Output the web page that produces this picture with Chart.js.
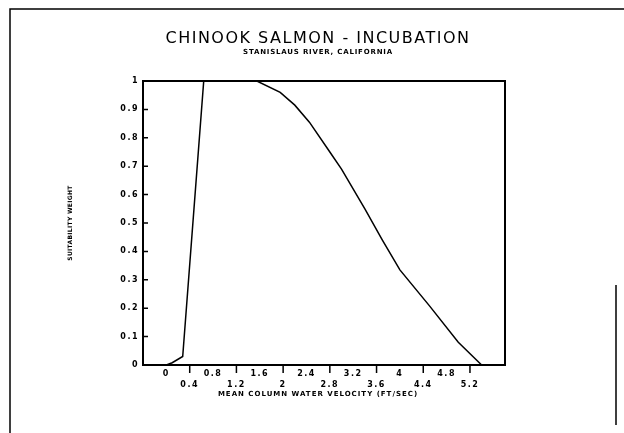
<!DOCTYPE html>
<html>
<head>
<meta charset="utf-8">
<script src="https://cdn.jsdelivr.net/npm/chart.js@4.4.1/dist/chart.umd.min.js"></script>
<style>
  html, body { margin: 0; padding: 0; background: #fff; }
  #wrap { width: 624px; height: 433px; position: relative; }
</style>
</head>
<body>
<div id="wrap"><canvas id="chart"></canvas></div>
<script>
const titleText = 'CHINOOK SALMON - INCUBATION';
const subtitleText = 'STANISLAUS RIVER, CALIFORNIA';
const xTitle = 'MEAN COLUMN WATER VELOCITY (FT/SEC)';
const yTitle = 'SUITABILITY WEIGHT';

// curve: velocity (ft/sec) -> suitability weight
const velocity = [0, 0.1, 0.28, 0.64, 1.55, 1.95, 2.2, 2.45, 2.8, 3.0, 3.4, 3.7, 4.0, 4.5, 5.0, 5.4];
const weight   = [0, 0.008, 0.03, 1.0, 1.0, 0.96, 0.915, 0.855, 0.75, 0.69, 0.55, 0.44, 0.335, 0.21, 0.08, 0];

// x labels are staggered on two rows, tick marks only under the lower row
const xUpperRow = [0, 0.8, 1.6, 2.4, 3.2, 4, 4.8];
const xLowerRow = [0.4, 1.2, 2, 2.8, 3.6, 4.4, 5.2];
const yTicks = [0, 0.1, 0.2, 0.3, 0.4, 0.5, 0.6, 0.7, 0.8, 0.9, 1];

const r1 = v => Math.round(v * 10) / 10;
const ink = '#000';

// ---------- text, frame and tick marks ----------
const decor = {
  id: 'decor',
  beforeDraw(chart) {
    chart.ctx.letterSpacing = '1.5px';
  },
  afterDraw(chart) {
    const { ctx, chartArea: a, scales } = chart;
    const txt = (s, x, y, font, spacing) => {
      ctx.font = font;
      ctx.letterSpacing = spacing;
      ctx.fillText(s, x, y);
    };
    ctx.save();
    ctx.fillStyle = ink;
    ctx.strokeStyle = ink;
    ctx.textAlign = 'center';
    ctx.textBaseline = 'middle';
    txt(titleText, 318, 39, '16px "DejaVu Sans"', '1.5px');
    txt(subtitleText, 318, 52, 'bold 7px "DejaVu Sans"', '0.8px');
    txt(xTitle, 318, 394, 'bold 7px "DejaVu Sans"', '1px');
    ctx.save();
    ctx.translate(70, (a.top + a.bottom) / 2);
    ctx.rotate(-Math.PI / 2);
    txt(yTitle, 0, 0, 'bold 6px "DejaVu Sans"', '0.3px');
    ctx.restore();

    // plot box
    ctx.lineWidth = 2;
    ctx.strokeRect(a.left, a.top, a.right - a.left, a.bottom - a.top);

    // tick marks
    ctx.lineWidth = 1.5;
    ctx.beginPath();
    xLowerRow.forEach(v => {
      const px = scales.x.getPixelForValue(v);
      ctx.moveTo(px, a.bottom);
      ctx.lineTo(px, a.bottom + 8);
    });
    yTicks.slice(1, -1).forEach(v => {
      const py = scales.y.getPixelForValue(v);
      ctx.moveTo(a.left, py);
      ctx.lineTo(a.left + 5, py);
    });
    ctx.stroke();

    // page frame of the scan
    ctx.lineWidth = 1.5;
    ctx.beginPath();
    ctx.moveTo(10, 433);
    ctx.lineTo(10, 9);
    ctx.lineTo(624, 9);
    ctx.moveTo(616, 285);
    ctx.lineTo(616, 425);
    ctx.stroke();
    ctx.restore();
  }
};

new Chart(document.getElementById('chart'), {
  type: 'line',
  data: {
    datasets: [{
      data: velocity.map((v, i) => ({ x: v, y: weight[i] })),
      borderColor: ink,
      borderWidth: 1.5,
      pointRadius: 0,
      tension: 0,
      fill: false
    }]
  },
  options: {
    responsive: true,
    maintainAspectRatio: false,
    animation: false,
    layout: { padding: { top: 81, right: 119, bottom: 0, left: 0 } },
    plugins: {
      legend: { display: false },
      tooltip: { enabled: false }
    },
    scales: {
      x: {
        type: 'linear',
        min: -0.4,
        max: 5.8,
        afterFit: s => { s.height = 68; },
        grid: { display: false, drawTicks: false },
        border: { display: false },
        ticks: {
          stepSize: 0.4,
          autoSkip: false,
          maxRotation: 0,
          padding: 3,
          color: ink,
          font: { family: 'DejaVu Sans', size: 8, weight: 'bold', lineHeight: '11px' },
          callback: v => {
            const t = r1(v);
            if (xUpperRow.includes(t)) return [String(t)];
            if (xLowerRow.includes(t)) return ['', String(t)];
            return '';
          }
        }
      },
      y: {
        min: 0,
        max: 1,
        afterFit: s => { s.width = 143; },
        grid: { display: false, drawTicks: false },
        border: { display: false },
        ticks: {
          stepSize: 0.1,
          autoSkip: false,
          padding: 4,
          color: ink,
          font: { family: 'DejaVu Sans', size: 8, weight: 'bold' },
          callback: v => yTicks.includes(r1(v)) ? String(r1(v)) : ''
        }
      }
    }
  },
  plugins: [decor]
});
</script>
</body>
</html>
